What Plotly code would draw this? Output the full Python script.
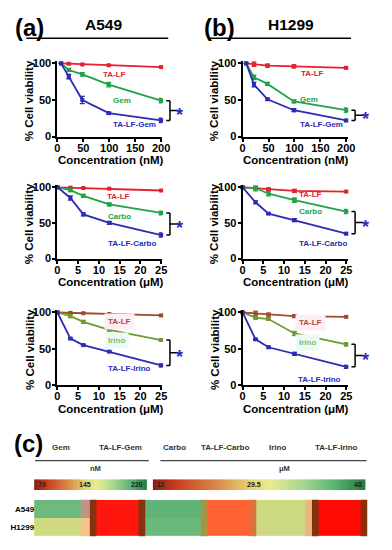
import plotly.graph_objects as go

W, H = 392, 550

# ---------------- data ----------------
conc_nM = [7, 22, 48, 99, 200]
conc_uM = [0, 3.125, 6.25, 12.5, 25]
tick_nM = [0, 50, 100, 150, 200]
tick_uM = [0, 5, 10, 15, 20, 25]
tick_via = [0, 50, 100]

# (a) A549
a549_talf_g = [100, 99.5, 98.5, 97.5, 95]
a549_gem = [100, 91, 85, 71, 49]
a549_combo_g = [100, 82, 50, 32, 22]
a549_talf_c = [100, 99.5, 99, 98, 95.5]
a549_carbo = [100, 96, 88, 76, 64]
a549_combo_c = [100, 85, 62, 50, 33]
a549_talf_i = [100, 99.5, 99, 98, 96]
a549_irino = [100, 95, 87, 76, 62]
a549_combo_i = [100, 64, 55, 46, 27]

# (b) H1299
h1299_talf_g = [100, 99, 97, 96, 94]
h1299_gem = [100, 81, 72, 48, 36]
h1299_combo_g = [100, 71, 51, 36, 22]
h1299_talf_c = [100, 99, 97, 95, 94]
h1299_carbo = [100, 99, 91, 82, 66]
h1299_combo_c = [100, 79, 63, 54, 35]
h1299_talf_i = [100, 99, 97, 95, 94]
h1299_irino = [100, 93, 91, 71, 56]
h1299_combo_i = [100, 63, 52, 43, 25]

# error bars (SD)
err_a_g = [[0, .5, .5, .5, .5], [0, 2, 2.5, 3, 3], [0, 3, 5, 1.5, 3]]
err_a_c = [[0, .5, .5, .5, .5], [0, 2, 2, 2, 2.5], [0, 3, 2, 2, 3]]
err_a_i = [[0, .5, .5, .5, .5], [0, 2, 2, 1.5, 1.5], [0, 1, 1, 1, 2]]
err_b_g = [[0, 3, 2, 2, 1.5], [0, 3, 2, 2, 3], [0, 3, 1.5, 2, 1.5]]
err_b_c = [[0, 2, 2, 2, 1], [0, 4, 3, 3, 3], [0, 2, 1, 2, 1.5]]
err_b_i = [[0, 3, 2, 2, 1], [0, 2, 2, 3, 2.5], [0, 1, 1.5, 2, 2]]

# (c) heat map
heat_cols = ["Gem", "TA-LF-Gem", "Carbo", "TA-LF-Carbo", "Irino", "TA-LF-Irino"]
heat_rows = ["A549", "H1299"]
nM_drugs = ["Gem", "TA-LF-Gem"]
nM_vals = [[195, 75], [160, 75]]
uM_drugs = ["Carbo", "TA-LF-Carbo", "Irino", "TA-LF-Irino"]
uM_vals = [[43, 16, 33.5, 11.5], [42, 16, 33.5, 11.5]]
nM_scale = [70, 145, 220]
uM_scale = [11, 29.5, 48]

# ---------------- helpers ----------------
def PX(x):
    return x / W

def PY(y):
    return 1 - y / H

def sfx(i):
    return "" if i == 1 else str(i)

FONT = "Liberation Sans, Arial, sans-serif"
RED, GREEN, BLUE = "#e5202e", "#21a345", "#2b2bb5"
BROWN, OLIVE = "#9e4a30", "#6c9c30"

fig = go.Figure()
layout = dict(
    width=W, height=H, margin=dict(l=0, r=0, t=0, b=0),
    paper_bgcolor="white", plot_bgcolor="white", showlegend=False,
    font=dict(family=FONT, color="black"),
)
annotations, shapes = [], []

def ann(text, x, y, size, color="black", **kw):
    d = dict(text=text, x=PX(x), y=PY(y), xref="paper", yref="paper",
             showarrow=False, xanchor="center", yanchor="middle",
             font=dict(family=FONT, size=size, color=color, weight="bold"))
    d.update(kw)
    annotations.append(d)

col_x = [(56, 164), (246.5, 354.5)]
row_y = [(135, 60.5), (259.3, 186.7), (388, 314.2)]
YMAX = 103

panels = [
    (0, 0, conc_nM, 202.5, tick_nM, "nM", [a549_talf_g, a549_gem, a549_combo_g], err_a_g,
     ["TA-LF", "Gem", "TA-LF-Gem"], [(115, 72), (122, 98), (135, 123)]),
    (1, 0, conc_nM, 202.5, tick_nM, "nM", [h1299_talf_g, h1299_gem, h1299_combo_g], err_b_g,
     ["TA-LF", "Gem", "TA-LF-Gem"], [(318, 71), (315, 97), (328, 123)]),
    (0, 1, conc_uM, 25.3, tick_uM, "\u03bcM", [a549_talf_c, a549_carbo, a549_combo_c], err_a_c,
     ["TA-LF", "Carbo", "TA-LF-Carbo"], [(119, 196), (120, 216), (133, 244)]),
    (1, 1, conc_uM, 25.3, tick_uM, "\u03bcM", [h1299_talf_c, h1299_carbo, h1299_combo_c], err_b_c,
     ["TA-LF", "Carbo", "TA-LF-Carbo"], [(316, 194), (316, 211), (329, 244)]),
    (0, 2, conc_uM, 25.3, tick_uM, "\u03bcM", [a549_talf_i, a549_irino, a549_combo_i], err_a_i,
     ["TA-LF", "Irino", "TA-LF-Irino"], [(120, 323), (117, 343), (130, 371)]),
    (1, 2, conc_uM, 25.3, tick_uM, "\u03bcM", [h1299_talf_i, h1299_irino, h1299_combo_i], err_b_i,
     ["TA-LF", "Irino", "TA-LF-Irino"], [(316, 324), (313, 345), (326, 382)]),
]

for k, (c, r, xs, xmax, xt, unit, series, errs, names, lab) in enumerate(panels):
    i = k + 1
    s_ = sfx(i)
    xl, xr = col_x[c]
    y0, y100 = row_y[r]
    ytop = y0 - (y0 - y100) * YMAX / 100
    axis_common = dict(showline=True, linecolor="black", linewidth=2, ticks="outside",
                       ticklen=3, tickwidth=2, tickcolor="black", showgrid=False,
                       zeroline=False, tickfont=dict(family=FONT, size=11, weight="bold"))
    layout[f"xaxis{s_}"] = dict(domain=[PX(xl), PX(xr)], anchor=f"y{s_}", range=[0, xmax],
                                tickvals=xt, ticklabelstandoff=-3, **axis_common)
    layout[f"yaxis{s_}"] = dict(domain=[PY(y0), PY(ytop)], anchor=f"x{s_}", range=[0, YMAX],
                                tickvals=tick_via, ticklabelstandoff=-1, **axis_common)
    if r == 2:
        cols = [BROWN, OLIVE, BLUE]
        lcols = ["#b04a3a", "#86b860", BLUE]
        bgs = ["#fdeef4", "#ecfaf6", None]
    else:
        cols = [RED, GREEN, BLUE]
        lcols = [RED, GREEN, BLUE]
        bgs = [None, None, None]
    for s, e, col in zip(series, errs, cols):
        fig.add_trace(go.Scatter(
            x=xs, y=s, mode="lines+markers", xaxis=f"x{s_}", yaxis=f"y{s_}",
            line=dict(color=col, width=1.8),
            marker=dict(symbol="square", size=4, color=col),
            error_y=dict(type="data", array=e, color=col, thickness=1.3, width=2.5),
            cliponaxis=False, hoverinfo="skip"))
    for nm, (lx, ly), lc, bg in zip(names, lab, lcols, bgs):
        extra = {}
        if bg:
            extra = dict(bgcolor=bg, borderpad=3)
        ann(nm, lx, ly, 8, lc, **extra)
    # axis titles
    ann(f"Concentration ({unit})", (xl + xr) / 2 + 1, y0 + 24, 11.5)
    ann("% Cell viability", xl - 29, (y0 + y100) / 2 + 1, 11.5, textangle=-90)
    # significance bracket
    top, bot = series[1][-1], series[2][-1]
    mid = (top + bot) / 2
    bx, cap, tk, sx = 1.072, 1.037, 1.15, 1.22
    for (xa, ya, xb, yb) in [(bx, top, bx, bot), (cap, top, bx, top),
                             (cap, bot, bx, bot), (bx, mid, tk, mid)]:
        shapes.append(dict(type="line", xref=f"x{s_} domain", yref=f"y{s_}",
                           x0=xa, y0=ya, x1=xb, y1=yb,
                           line=dict(color="black", width=1.5)))
    annotations.append(dict(text="*", x=sx, y=mid, xref=f"x{s_} domain", yref=f"y{s_}",
                            showarrow=False, yshift=-4,
                            font=dict(family=FONT, size=18, color=BLUE, weight="bold")))

# headers
ann("(a)", 27, 24, 24)
ann("A549", 103, 21, 15.5)
ann("(b)", 223, 24, 24)
ann("H1299", 296, 21, 15.5)
for (a, b) in [(24, 170), (212, 358)]:
    shapes.append(dict(type="line", xref="paper", yref="paper", x0=PX(a), x1=PX(b),
                       y0=PY(35), y1=PY(35), line=dict(color="black", width=1.5)))

# ---------------- panel (c) ----------------
ann("(c)", 26, 448, 24)
for nm, xc in zip(heat_cols, [60, 121, 176, 228, 282, 343]):
    ann(nm, xc, 452, 8, "#333333")
for (a, b) in [(33, 150), (162, 374)]:
    shapes.append(dict(type="line", xref="paper", yref="paper", x0=PX(a), x1=PX(b),
                       y0=PY(465), y1=PY(465), line=dict(color="#444444", width=1.2)))
ann("nM", 95, 473, 7.5, "#333333")
ann("\u03bcM", 290, 473, 7.5, "#333333")

bar_scale = [[0, "#8c2010"], [0.1, "#c83a20"], [0.3, "#d98a48"], [0.45, "#e8d070"],
             [0.55, "#e8ec90"], [0.7, "#a8d890"], [0.85, "#5cb474"], [1, "#1e7a3c"]]
cell_scale = [[0, "#ff0000"], [0.06, "#ff2a18"], [0.14, "#ff6633"], [0.3, "#f5a055"],
              [0.48, "#e8dc80"], [0.6, "#cfda80"], [0.7, "#a8cc80"], [0.85, "#66b87c"],
              [1, "#2e8b50"]]

hidden = dict(visible=False, showgrid=False, zeroline=False)
# colour-scale bars
for i, vals, (xa, xb) in [(8, nM_scale, (32, 148)), (9, uM_scale, (154, 373))]:
    fig.add_trace(go.Heatmap(z=[vals], x=vals, y=[0], colorscale=bar_scale,
                             zmin=vals[0], zmax=vals[-1], zsmooth="best", showscale=False,
                             xaxis=f"x{i}", yaxis=f"y{i}", hoverinfo="skip"))
    layout[f"xaxis{i}"] = dict(domain=[PX(xa), PX(xb)], anchor=f"y{i}",
                               range=[vals[0], vals[-1]], **hidden)
    layout[f"yaxis{i}"] = dict(domain=[PY(495), PY(484)], anchor=f"x{i}",
                               range=[-0.5, 0.5], **hidden)
    lf = dict(family=FONT, size=7, color="#222222", weight="bold")
    annotations.append(dict(text=f"{vals[0]:g}", x=vals[0], y=0, xref=f"x{i}", yref=f"y{i}",
                            xanchor="left", showarrow=False, xshift=2, font=lf))
    annotations.append(dict(text=f"{vals[1]:g}", x=vals[1], y=0, xref=f"x{i}", yref=f"y{i}",
                            xanchor="center", showarrow=False, xshift=-5, font=lf))
    annotations.append(dict(text=f"{vals[2]:g}", x=vals[2], y=0, xref=f"x{i}", yref=f"y{i}",
                            xanchor="right", showarrow=False, xshift=-2, font=lf))

# heat map cells
fig.add_trace(go.Heatmap(z=nM_vals, x=nM_drugs, y=heat_rows, colorscale=cell_scale,
                         zmin=nM_scale[0], zmax=nM_scale[-1], showscale=False,
                         xaxis="x7", yaxis="y7", hoverinfo="skip"))
fig.add_trace(go.Heatmap(z=uM_vals, x=uM_drugs, y=heat_rows, colorscale=cell_scale,
                         zmin=uM_scale[0], zmax=uM_scale[-1], showscale=False,
                         xaxis="x7", yaxis="y7", hoverinfo="skip"))
layout["xaxis7"] = dict(domain=[PX(32), PX(375)], anchor="y7", type="category",
                        categoryorder="array", categoryarray=heat_cols,
                        range=[-0.5, len(heat_cols) - 0.5],
                        showticklabels=False, showgrid=False, zeroline=False, ticks="")
layout["yaxis7"] = dict(domain=[PY(542), PY(505)], anchor="x7", type="category",
                        categoryorder="array", categoryarray=heat_rows, autorange="reversed",
                        showgrid=False, zeroline=False, ticks="", ticklabelstandoff=-1,
                        tickfont=dict(family=FONT, size=8, weight="bold"))

# blurred cell edges of the reference picture
ew = 0.122
edge_bands = [
    (heat_cols.index("TA-LF-Gem") - 0.5, "#7a3510", 0, 1, ew),
    (heat_cols.index("TA-LF-Gem") + 0.5 - ew, "#7a3510", 0, 1, ew),
    (heat_cols.index("TA-LF-Irino") - 0.5, "#7a3510", 0, 1, ew),
    (heat_cols.index("TA-LF-Irino") + 0.5 - ew, "#7a3510", 0, 1, ew),
    (heat_cols.index("TA-LF-Carbo") - 0.5, "#a09a48", 0, 1, ew),
    (heat_cols.index("TA-LF-Carbo") + 0.5 - ew, "#d8743f", 0, 1, ew),
    (heat_cols.index("Gem") + 0.5 - 0.16, "#c8908a", 0.5, 1, 0.16),
    (heat_cols.index("Gem") + 0.5 - 0.16, "#f8c088", 0, 0.5, 0.16),
    (heat_cols.index("Irino") + 0.5 - ew, "#f0b080", 0, 1, ew),
]
for x0, colr, ya, yb, w in edge_bands:
    shapes.append(dict(type="rect", xref="x7", yref="y7 domain", x0=x0, x1=x0 + w,
                       y0=ya, y1=yb, fillcolor=colr, opacity=0.9, line=dict(width=0),
                       layer="above"))

layout["annotations"] = annotations
layout["shapes"] = shapes
fig.update_layout(**layout)
fig.write_html("out.html", config={"displayModeBar": False},
               post_script="document.body.style.margin='0';"
                           "document.body.style.overflow='hidden';")
